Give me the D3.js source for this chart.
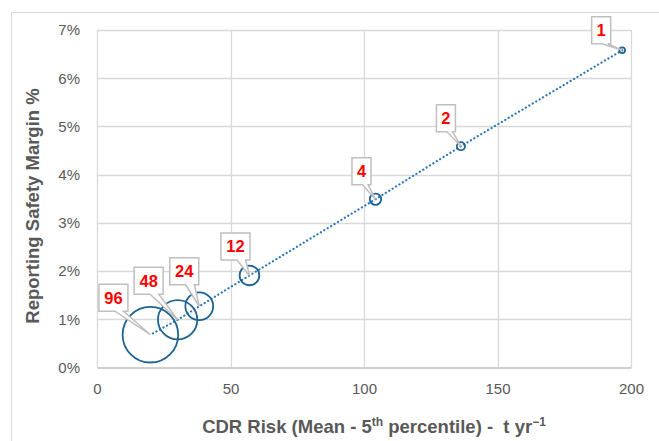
<!DOCTYPE html>
<html>
<head>
<meta charset="utf-8">
<script src="https://cdn.jsdelivr.net/npm/d3@7"></script>
<style>
  html, body { margin: 0; padding: 0; background: #fff; }
  svg { display: block; font-family: "Liberation Sans", Arial, sans-serif; }
</style>
</head>
<body>
<svg id="chart" width="659" height="441"></svg>
<script>
// ---- data ----
const labels = ["1", "2", "4", "12", "24", "48", "96"];
const sizes = [1, 2, 4, 12, 24, 48, 96];
const cdrRisk = [196.7, 136.3, 104.3, 57.1, 38.3, 30.2, 20.0];
const safetyMargin = [0.0658, 0.0459, 0.0349, 0.0191, 0.0127, 0.0099, 0.0068];
const xTicks = [0, 50, 100, 150, 200];
const yTicks = [0, 0.01, 0.02, 0.03, 0.04, 0.05, 0.06, 0.07];

// callout offsets (layout only)
const calloutOffsets = [[-21, -20], [-15, -28], [-14, -28], [-14, -29], [-15, -35], [-29, -39], [-37, -37]];

const svg = d3.select("#chart");
const plot = { left: 97, right: 631, top: 30, bottom: 367.5 };

// outer border
svg.append("rect").attr("x", 11.5).attr("y", 12.5).attr("width", 700).attr("height", 500)
  .attr("fill", "none").attr("stroke", "#d9d9d9").attr("stroke-width", 1);

const x = d3.scaleLinear().domain([0, 200]).range([plot.left, plot.right]);
const y = d3.scaleLinear().domain([0, 0.07]).range([plot.bottom, plot.top]);
const r = d3.scaleSqrt().domain([0, 96]).range([0, 27.8]);

// gridlines
svg.append("g").selectAll("line").data(yTicks.slice(1)).join("line")
  .attr("x1", plot.left).attr("x2", plot.right)
  .attr("y1", d => Math.round(y(d)) + 0.5).attr("y2", d => Math.round(y(d)) + 0.5)
  .attr("stroke", "#d9d9d9").attr("stroke-width", 1.3);
svg.append("g").selectAll("line").data(xTicks.slice(1)).join("line")
  .attr("y1", plot.top).attr("y2", plot.bottom)
  .attr("x1", d => Math.round(x(d)) + 0.5).attr("x2", d => Math.round(x(d)) + 0.5)
  .attr("stroke", "#d9d9d9").attr("stroke-width", 1.3);

// axes
const xAxis = d3.axisBottom(x).tickValues(xTicks).tickSize(0).tickPadding(16);
const gx = svg.append("g").attr("transform", `translate(0,${plot.bottom})`).call(xAxis);
gx.select(".domain").attr("stroke", "#bfbfbf").attr("stroke-width", 1.5);
gx.selectAll("text").attr("fill", "#595959").attr("font-size", 15);

const yAxis = d3.axisLeft(y).tickValues(yTicks).tickFormat(d3.format(".0%")).tickSize(0).tickPadding(17);
const gy = svg.append("g").attr("transform", `translate(${plot.left},0)`).call(yAxis);
gy.select(".domain").attr("stroke", "#d9d9d9").attr("stroke-width", 1.3);
gy.selectAll("text").attr("fill", "#595959").attr("font-size", 15);

// axis titles
svg.append("text").attr("transform", "translate(39,206) rotate(-90)")
  .attr("text-anchor", "middle").attr("font-size", 18.5).attr("font-weight", "bold")
  .attr("fill", "#595959").text("Reporting Safety Margin %");

const xt = svg.append("text").attr("x", 374).attr("y", 433)
  .attr("text-anchor", "middle").attr("font-size", 18.5).attr("font-weight", "bold")
  .attr("fill", "#595959").attr("xml:space", "preserve");
xt.append("tspan").text("CDR Risk (Mean - 5");
xt.append("tspan").attr("dy", -7).attr("font-size", 12).text("th");
xt.append("tspan").attr("dy", 7).text(" percentile) -\u00a0\u00a0t yr");
xt.append("tspan").attr("dy", -7).attr("font-size", 12).text("\u22121");

// data
const pts = labels.map((l, i) => ({ label: l, size: sizes[i], x: cdrRisk[i], y: safetyMargin[i], off: calloutOffsets[i] }));

// dotted connecting line
svg.append("path")
  .datum(pts)
  .attr("d", d3.line().x(d => x(d.x)).y(d => y(d.y)))
  .attr("fill", "none").attr("stroke", "#2e75b6").attr("stroke-width", 2.2)
  .attr("stroke-dasharray", "0.1 3.9").attr("stroke-linecap", "round");

// bubbles
svg.append("g").selectAll("circle").data(pts).join("circle")
  .attr("cx", d => x(d.x)).attr("cy", d => y(d.y)).attr("r", d => r(d.size))
  .attr("fill", "none").attr("stroke", "#1f6391").attr("stroke-width", 1.8);

// callouts
const cg = svg.append("g");
pts.forEach(d => {
  const px = x(d.x), py = y(d.y);
  const cx = px + d.off[0], cy = py + d.off[1];
  const w = d.label.length > 1 ? 29 : 19, h = 27;
  const x0 = cx - w / 2, x1 = cx + w / 2, y0 = cy - h / 2, y1 = cy + h / 2;
  const path = `M${x0},${y0} L${x1},${y0} L${x1},${y1} L${x1 - w * 0.15},${y1} L${px},${py} L${x1 - w * 0.45},${y1} L${x0},${y1} Z`;
  cg.append("path").attr("d", path).attr("fill", "#fff")
    .attr("stroke", "#bfbfbf").attr("stroke-width", 1.5).attr("stroke-linejoin", "miter");
  cg.append("text").attr("x", cx).attr("y", cy + 6).attr("text-anchor", "middle")
    .attr("font-size", 16.5).attr("font-weight", "bold").attr("fill", "#ff0000").text(d.label);
});
</script>
</body>
</html>
